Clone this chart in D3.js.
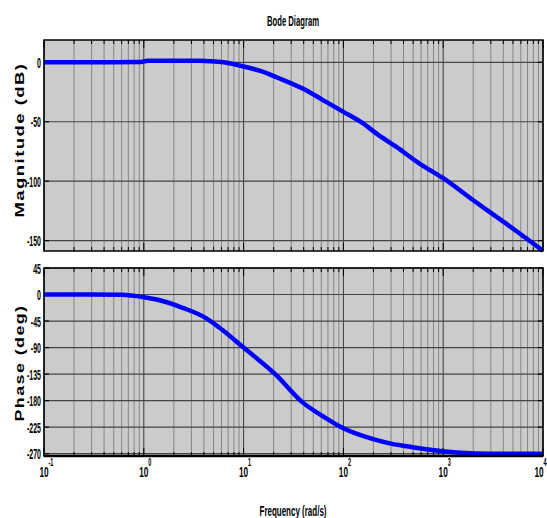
<!DOCTYPE html>
<html>
<head>
<meta charset="utf-8">
<script src="https://cdn.jsdelivr.net/npm/d3@7"></script>
<style>
  html, body { margin: 0; padding: 0; background: #fff; }
  svg { display: block; }
  text { font-family: "Liberation Sans", Arial, sans-serif; font-weight: bold; fill: #000; }
</style>
</head>
<body>
<svg id="chart" width="547" height="518"></svg>
<script>
// ---- Data ----
const magFreq  = [0.1, 0.2, 0.5, 0.9, 1.1, 2, 3.6, 6, 10, 15, 22, 40, 63, 100, 155, 215, 337, 575, 1000, 2000, 4000, 10000];
const magDb    = [0, 0, 0, 0.2, 1.2, 1.4, 1.3, 0.2, -3.5, -7.5, -13, -22.5, -32, -41.7, -51, -60, -71, -85, -97.5, -116, -134, -158.5];
const phFreq   = [0.1, 0.3, 0.6, 1.0, 1.35, 2.45, 4.2, 5.7, 10, 21, 39, 63, 100, 195, 300, 490, 900, 1500, 3000, 10000];
const phDeg    = [0, 0, -0.5, -4.5, -8.5, -22.5, -40, -56, -90, -136, -183, -207, -227, -245, -253, -259, -265, -268.5, -270, -270];
const magTicks = [0, -50, -100, -150];
const phTicks  = [45, 0, -45, -90, -135, -180, -225, -270];
const xDecades = [-1, 0, 1, 2, 3, 4];
const titleText = "Bode Diagram";
const magLabel = "Magnitude (dB)";
const phLabel = "Phase (deg)";
const xLabel = "Frequency (rad/s)";

// ---- Layout ----
const svg = d3.select("#chart");
const L = 44, R = 543;
const top1 = 40, bot1 = 251;
const top2 = 268, bot2 = 456;

const x = d3.scaleLog().domain([0.1, 10000]).range([L, R]);
const yMag = d3.scaleLinear().domain([-158.7, 18.75]).range([bot1, top1]);
const yPh = d3.scaleLinear().domain([-274, 45]).range([bot2, top2]);

const minorX = [], majorX = [];
for (let d = -1; d < 4; d++) {
  majorX.push(Math.pow(10, d));
  for (let k = 2; k <= 9; k++) minorX.push(k * Math.pow(10, d));
}
majorX.push(10000);

function panel(y, yTicks, t, b, xs, ys, id) {
  const g = svg.append("g");
  g.append("rect").attr("x", L).attr("y", t).attr("width", R - L).attr("height", b - t)
    .attr("fill", "#cbcbcb");
  g.selectAll(".vmin").data(minorX).enter().append("line")
    .attr("x1", d => x(d)).attr("x2", d => x(d)).attr("y1", t).attr("y2", b)
    .attr("stroke", "#868686").attr("stroke-width", 1);
  g.selectAll(".vmaj").data(majorX).enter().append("line")
    .attr("x1", d => x(d)).attr("x2", d => x(d)).attr("y1", t).attr("y2", b)
    .attr("stroke", "#3a3a3a").attr("stroke-width", 1);
  g.selectAll(".hg").data(yTicks).enter().append("line")
    .attr("x1", L).attr("x2", R).attr("y1", d => y(d)).attr("y2", d => y(d))
    .attr("stroke", "#444").attr("stroke-width", 1.2);
  const allX = minorX.map(d => [d, 4]).concat(majorX.map(d => [d, 8]));
  g.selectAll(".xt").data(allX).enter().append("line")
    .attr("x1", d => x(d[0])).attr("x2", d => x(d[0])).attr("y1", t).attr("y2", d => t + d[1])
    .attr("stroke", "#000").attr("stroke-width", 1);
  g.selectAll(".xb").data(allX).enter().append("line")
    .attr("x1", d => x(d[0])).attr("x2", d => x(d[0])).attr("y1", b).attr("y2", d => b - d[1])
    .attr("stroke", "#000").attr("stroke-width", 1);
  g.selectAll(".yl").data(yTicks).enter().append("line")
    .attr("x1", L).attr("x2", L + 5).attr("y1", d => y(d)).attr("y2", d => y(d))
    .attr("stroke", "#000").attr("stroke-width", 1.2);
  g.selectAll(".yr").data(yTicks).enter().append("line")
    .attr("x1", R).attr("x2", R - 5).attr("y1", d => y(d)).attr("y2", d => y(d))
    .attr("stroke", "#000").attr("stroke-width", 1.2);
  const cp = "clip" + id;
  svg.append("clipPath").attr("id", cp).append("rect")
    .attr("x", L).attr("y", t - 2).attr("width", R - L + 2).attr("height", b - t + 4);
  const line = d3.line().x(d => x(d[0])).y(d => y(d[1])).curve(d3.curveMonotoneX);
  g.append("path").datum(xs.map((f, i) => [f, ys[i]]))
    .attr("d", line).attr("fill", "none").attr("stroke", "#0000ff")
    .attr("stroke-width", 4.5).attr("stroke-linejoin", "round")
    .attr("clip-path", `url(#${cp})`);
  g.append("rect").attr("x", L).attr("y", t).attr("width", R - L).attr("height", b - t)
    .attr("fill", "none").attr("stroke", "#000").attr("stroke-width", 1.5);
  g.selectAll(".ylab").data(yTicks).enter().append("text")
    .attr("transform", d => `translate(41,${y(d) + 5.5}) scale(0.47,1)`)
    .attr("text-anchor", "end").style("font-size", "15px")
    .text(d => d);
  return g;
}

panel(yMag, magTicks, top1, bot1, magFreq, magDb, "m");
panel(yPh, phTicks, top2, bot2, phFreq, phDeg, "p");
svg.append("line").attr("x1", L).attr("x2", R).attr("y1", bot2).attr("y2", bot2)
  .attr("stroke", "#000").attr("stroke-width", 2.5);

xDecades.forEach(n => {
  let cx = x(Math.pow(10, n));
  if (n === 4) cx = 539;
  svg.append("text").attr("transform", `translate(${cx},477) scale(0.55,1)`)
    .attr("text-anchor", "middle").style("font-size", "15px").text("10");
  svg.append("text").attr("transform", `translate(${cx + 4.5},466) scale(0.55,1)`)
    .attr("text-anchor", "start").style("font-size", "10px").text(String(n));
});

svg.append("text").attr("x", 293).attr("y", 26).attr("text-anchor", "middle")
  .style("font-size", "15px").attr("textLength", 52).attr("lengthAdjust", "spacingAndGlyphs")
  .text(titleText);
svg.append("text").attr("x", 293).attr("y", 516).attr("text-anchor", "middle")
  .style("font-size", "14px").attr("textLength", 67).attr("lengthAdjust", "spacingAndGlyphs")
  .text(xLabel);
svg.append("text").attr("transform", "translate(24,140) rotate(-90)").attr("text-anchor", "middle")
  .style("font-size", "12.5px").style("letter-spacing", "1px")
  .attr("textLength", 155).attr("lengthAdjust", "spacingAndGlyphs").text(magLabel);
svg.append("text").attr("transform", "translate(24,363) rotate(-90)").attr("text-anchor", "middle")
  .style("font-size", "12.5px").style("letter-spacing", "1px")
  .attr("textLength", 117).attr("lengthAdjust", "spacingAndGlyphs").text(phLabel);
</script>
</body>
</html>
